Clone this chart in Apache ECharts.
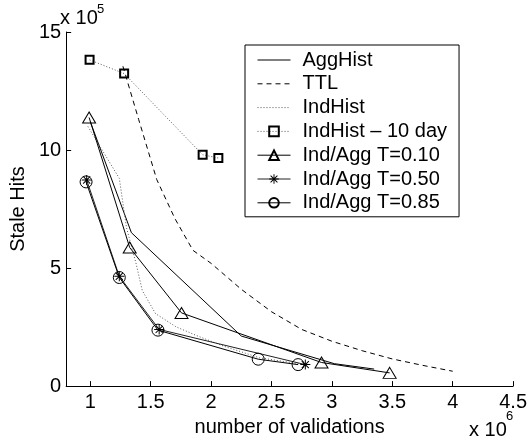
<!DOCTYPE html>
<html>
<head>
<meta charset="utf-8">
<script src="https://cdn.jsdelivr.net/npm/echarts@6/dist/echarts.min.js"></script>
<style>
  html, body { margin: 0; padding: 0; background: #fff; }
  #chart { width: 530px; height: 442px; }
</style>
</head>
<body>
<div id="chart"></div>
<script>
// x: number of validations (x 10^6), y: stale hits (x 10^5)
var aggHistX = [1.0, 1.34, 2.25, 3.02, 3.35];
var aggHistY = [11.2, 6.5, 2.12, 0.95, 0.72];

var ttlX = [1.27, 1.4, 1.55, 1.7, 1.85, 2.0, 2.25, 2.5, 2.75, 3.0, 3.25, 3.5, 3.75, 4.0];
var ttlY = [13.55, 11.3, 8.75, 7.1, 5.75, 5.2, 4.1, 3.15, 2.4, 1.9, 1.5, 1.15, 0.88, 0.63];

var indHistX = [0.98, 1.24, 1.3, 1.38, 1.43, 1.54, 1.71, 1.88, 2.1, 2.4, 2.75];
var indHistY = [11.0, 8.8, 6.7, 5.17, 4.05, 3.07, 2.51, 2.14, 1.7, 1.2, 0.93];

var indHist10X = [0.994, 1.28, 1.93, 2.06];
var indHist10Y = [13.82, 13.24, 9.8, 9.66];

var t10X = [0.99, 1.326, 1.755, 2.914, 3.478];
var t10Y = [11.38, 5.87, 3.1, 1.0, 0.56];

var t50X = [0.97, 1.24, 1.57, 2.78];
var t50Y = [8.73, 4.65, 2.4, 0.91];

var t85X = [0.965, 1.24, 1.56, 2.39, 2.72];
var t85Y = [8.65, 4.6, 2.37, 1.14, 0.91];

var xTicks = [1, 1.5, 2, 2.5, 3, 3.5, 4, 4.5];
var yTicks = [0, 5, 10, 15];

var names = ['AggHist', 'TTL', 'IndHist', 'IndHist \u2013 10 day',
  'Ind/Agg T=0.10', 'Ind/Agg T=0.50', 'Ind/Agg T=0.85'];

function pairs(xs, ys) {
  return xs.map(function (x, i) { return [x, ys[i]]; });
}

var font = "'Liberation Sans', Arial, sans-serif";
var star = 'path://M9,0h2v20h-2z M0,9h20v2h-20z M2.2,3.6L3.6,2.2L17.8,16.4L16.4,17.8z M16.4,2.2L17.8,3.6L3.6,17.8L2.2,16.4z';
var hollow = { color: 'rgba(0,0,0,0)', borderColor: '#000', borderWidth: 1 };

// lines without markers: hide the symbol in the legend icon
var legendData = names.map(function (n, i) {
  if (i < 3) return { name: n, itemStyle: { opacity: 0 } };
  return { name: n };
});

var myChart = echarts.init(document.getElementById('chart'));
var option = {
  animation: false,
  textStyle: { fontFamily: font },
  grid: { left: 61, right: 15, top: 32, bottom: 52 },
  xAxis: {
    type: 'value',
    min: 0.8,
    max: 4.5,
    name: 'number of validations',
    nameLocation: 'middle',
    nameGap: 24,
    nameTextStyle: { fontSize: 20, color: '#000', fontFamily: font },
    axisLine: { lineStyle: { color: '#000', width: 1 } },
    axisTick: { inside: true, length: 5, customValues: xTicks, lineStyle: { color: '#000' } },
    axisLabel: { customValues: xTicks, fontSize: 20, color: '#000', margin: 6, fontFamily: font },
    splitLine: { show: false }
  },
  yAxis: {
    type: 'value',
    min: 0,
    max: 15,
    interval: 5,
    name: 'Stale Hits',
    nameLocation: 'middle',
    nameGap: 30,
    nameTextStyle: { fontSize: 20, color: '#000', fontFamily: font },
    axisLine: { show: true, lineStyle: { color: '#000', width: 1 } },
    axisTick: { show: true, inside: true, length: 5, customValues: yTicks, lineStyle: { color: '#000' } },
    axisLabel: { customValues: yTicks, fontSize: 20, color: '#000', margin: 5, fontFamily: font },
    splitLine: { show: false }
  },
  legend: {
    orient: 'vertical',
    left: 245,
    top: 45,
    padding: [5, 12, 4, 12],
    itemWidth: 33,
    itemHeight: 12,
    itemGap: 3.8,
    borderColor: '#000',
    borderWidth: 1,
    backgroundColor: '#fff',
    lineStyle: { width: 1 },
    textStyle: { fontSize: 20, lineHeight: 20, color: '#000', fontFamily: font, padding: [0, 0, 0, 7] },
    data: legendData
  },
  series: [
    {
      name: names[0], type: 'line', data: pairs(aggHistX, aggHistY), symbol: 'none',
      lineStyle: { color: '#000', width: 1 }, itemStyle: { color: '#000' }
    },
    {
      name: names[1], type: 'line', data: pairs(ttlX, ttlY), symbol: 'none',
      lineStyle: { color: '#000', width: 1, type: [5, 4] }, itemStyle: { color: '#000' }
    },
    {
      name: names[2], type: 'line', data: pairs(indHistX, indHistY), symbol: 'none',
      lineStyle: { color: '#555', width: 1, type: [1, 2] }, itemStyle: { color: '#555' }
    },
    {
      name: names[3], type: 'line', data: pairs(indHist10X, indHist10Y), symbol: 'rect', symbolSize: 8,
      lineStyle: { color: '#555', width: 1, type: [1, 2] },
      itemStyle: { color: 'rgba(0,0,0,0)', borderColor: '#000', borderWidth: 2 }
    },
    {
      name: names[4], type: 'line', data: pairs(t10X, t10Y), symbol: 'triangle', symbolSize: [13, 11],
      lineStyle: { color: '#000', width: 1 }, itemStyle: hollow
    },
    {
      name: names[5], type: 'line', data: pairs(t50X, t50Y), symbol: star, symbolSize: 10,
      lineStyle: { color: '#222', width: 1 }, itemStyle: { color: '#000' }
    },
    {
      name: names[6], type: 'line', data: pairs(t85X, t85Y), symbol: 'circle', symbolSize: 12,
      lineStyle: { color: '#000', width: 1 }, itemStyle: hollow
    }
  ],
  graphic: [
    { type: 'text', left: 60, top: 8, style: { text: 'x 10', font: '20px ' + font, fill: '#000' } },
    { type: 'text', left: 97, top: 3, style: { text: '5', font: '13px ' + font, fill: '#000' } },
    { type: 'text', left: 469, top: 420, style: { text: 'x 10', font: '20px ' + font, fill: '#000' } },
    { type: 'text', left: 506, top: 410, style: { text: '6', font: '13px ' + font, fill: '#000' } }
  ]
};
option && myChart.setOption(option);
window.addEventListener('resize', function () {
  myChart.resize();
});
</script>
</body>
</html>
